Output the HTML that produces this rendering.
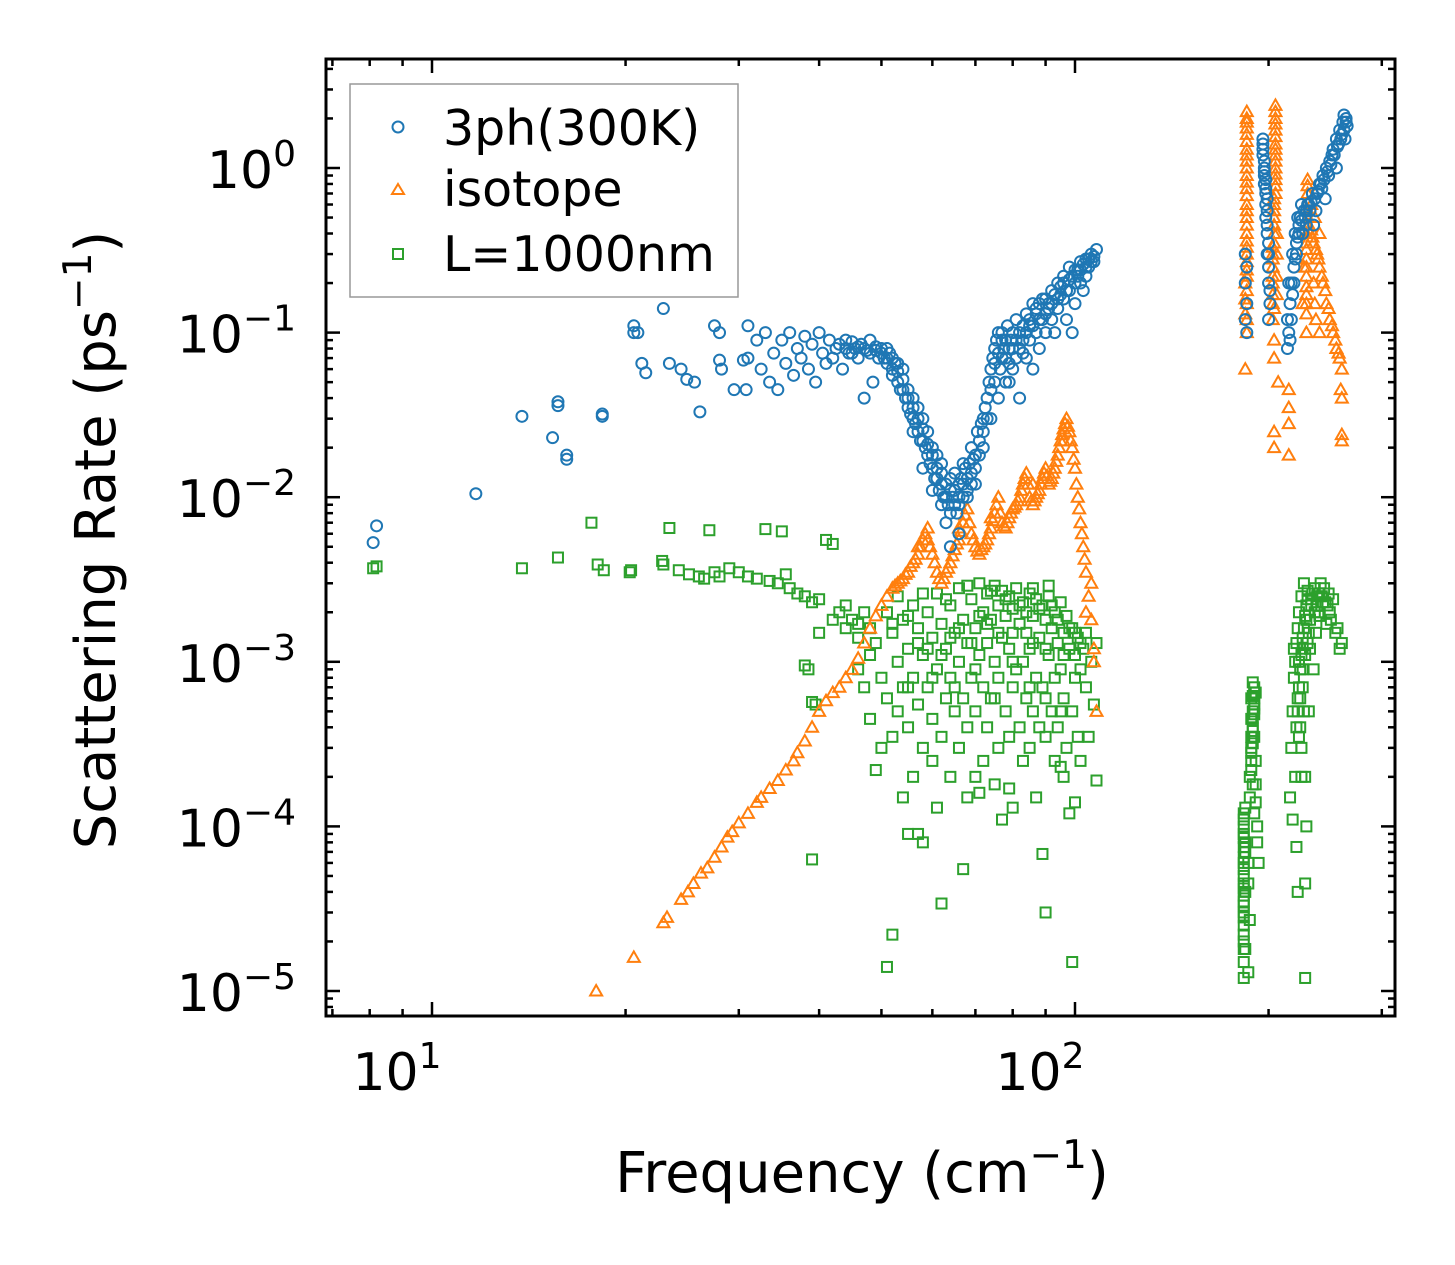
<!DOCTYPE html>
<html><head><meta charset="utf-8">
<style>
html,body{margin:0;padding:0;background:#fff;}
svg{display:block;font-family:"DejaVu Sans","Liberation Sans",sans-serif;}
</style></head>
<body>
<svg id="chart" width="1455" height="1265" viewBox="0 0 1455 1265" xmlns="http://www.w3.org/2000/svg">
<rect x="0" y="0" width="1455" height="1265" fill="#fff"/>
<g id="marks"></g>
<g id="axes"></g>
<rect x="326" y="59" width="1069" height="957" fill="none" stroke="#000" stroke-width="3"/>
<text transform="translate(115,540) rotate(-90)" text-anchor="middle" font-size="56">Scattering Rate (ps<tspan dy="-24" font-size="39">−1</tspan><tspan dy="24">)</tspan></text>
<text x="862" y="1192" text-anchor="middle" font-size="56">Frequency (cm<tspan dy="-24" font-size="39">−1</tspan><tspan dy="24">)</tspan></text>
<g>
<rect x="350" y="84" width="388" height="213" fill="#fff" stroke="#999" stroke-width="1.5"/>
<circle cx="398" cy="127" r="5.5" fill="none" stroke="#1f77b4" stroke-width="2"/>
<text x="443" y="145" font-size="49">3ph(300K)</text>
<path d="M398,184 L404,194 L392,194 Z" fill="none" stroke="#ff7f0e" stroke-width="2"/>
<text x="443" y="206" font-size="49">isotope</text>
<rect x="393" y="249" width="10" height="10" fill="none" stroke="#2ca02c" stroke-width="2"/>
<text x="443" y="271" font-size="49">L=1000nm</text>
</g>
</svg>
<script>
const xMajorTicks = [10, 100];
const yMajorExps = [0, -1, -2, -3, -4, -5];
const pts3ph = [[8.1,5.3e-3],[8.2,6.7e-3],[11.7,1.05e-2],[13.8,3.1e-2],[15.7,3.6e-2],[15.7,3.8e-2],[15.4,2.3e-2],[16.2,1.8e-2],[16.2,1.7e-2],[18.4,3.1e-2],[18.4,3.2e-2],[20.6,0.11],[20.6,0.1],[20.9,0.1],[21.2,0.065],[21.5,0.057],[22.9,0.14],[23.4,0.065],[24.4,0.06],[24.9,0.052],[25.6,0.05],[26.1,0.033],[27.5,0.11],[28,0.1],[28,0.068],[28.2,0.06],[29.5,0.045],[30.5,0.068],[30.8,0.045],[31,0.11],
[31,0.07],[32,0.09],[32.5,0.06],[33,0.1],[33.5,0.05],[34,0.075],[34.5,0.045],[35,0.09],[35.5,0.065],[36,0.1],[36.5,0.055],[37,0.08],[37.5,0.07],[38,0.095],[38.5,0.06],[39,0.085],[39.5,0.05],[40,0.1],[40.5,0.075],[41,0.065],[41.5,0.09],[42,0.07],[42.5,0.08],[43,0.085],[43.5,0.06],[44,0.09],[44.5,0.075],[45,0.088],[45.5,0.08],[46,0.07],[46.5,0.085],[47,0.04],[47.5,0.078],[48,0.09],[48.5,0.05],[49,0.082],[49.5,0.07],[50,0.075],[51,0.07],[52,0.06],[53,0.05],[54,0.045],[55,0.035],[56,0.03],[57,0.025],[58,0.022],[59,0.018],[60,0.015],[61,0.013],[62,0.012],[63,0.01],[64,0.011],[65,0.009],[66,0.012],[67,0.01],[68,0.013],[69,0.014],[70,0.018],[71,0.022],[72,0.03],[73,0.04],[74,0.06],[75,0.08],[76,0.1],[77,0.07],[78,0.09],[79,0.05],[80,0.1],[81,0.12],[82,0.08],[83,0.11],[84,0.13],[85,0.09],[86,0.15],[87,0.1],[88,0.12],[89,0.16],[90,0.13],[92,0.18],[94,0.2],[96,0.22],[98,0.25],[100,0.2],[102,0.27],[104,0.28],[106,0.3],[108,0.32],
[52,0.07],[54,0.06],[56,0.04],[58,0.03],[60,0.02],[62,0.016],[63,0.007],[64,0.005],[66,0.006],[60,0.011],[58,0.015],[56,0.025],[55,0.045],[57,0.035],[59,0.025],[61,0.018],[65,0.014],[67,0.016],[69,0.02],[70,0.012],[72,0.02],[74,0.03],[76,0.04],[78,0.05],[80,0.06],[82,0.04],[84,0.07],[86,0.06],[88,0.08],[90,0.1],[92,0.12],[94,0.14],[96,0.16],[98,0.18],[100,0.15],[102,0.2],[104,0.22],[97,0.12],[99,0.1],[53,0.065],[51,0.08],[62,0.009],[64,0.008],[66,0.009],[68,0.01],[75,0.05],[77,0.09],[79,0.08],[81,0.07],[83,0.09],[85,0.11],[87,0.13],[91,0.15],[93,0.1],[95,0.17],[101,0.24],[103,0.18],[105,0.25],[107,0.27],
[184,0.3],[184,0.2],[185,0.15],[185,0.25],[184,0.12],[185,0.1],[196,1.5],[196,1.2],[197,1.0],[197,0.8],[198,0.6],[198,0.5],[199,0.4],[199,0.3],[200,0.25],[200,0.2],[201,0.15],[197,0.9],[198,0.7],
[214,0.08],[215,0.1],[216,0.15],[217,0.2],[218,0.3],[219,0.25],[220,0.4],[221,0.35],[222,0.5],[223,0.45],[225,0.6],[228,0.5],[231,0.6],[234,0.7],[237,0.55],[240,0.8],[243,0.9],[246,1.0],[249,1.1],[252,1.3],[255,1.5],[258,1.7],[261,1.9],[264,2.0],[265,1.8],[235,0.45],[245,0.65],[255,1.0],[263,1.5],[226,0.4],[229,0.45],[232,0.55],[238,0.7],[242,0.75],[248,0.9],[251,1.2],[257,1.4],[260,1.6],[214,0.12],[215,0.2],[262,2.1]];
const pts3phDense = [[44,0.08],[45,0.075],[46,0.082],[47,0.08],[48,0.075],[49,0.078],[50,0.08],[50.5,0.07],[51,0.065],[51.5,0.075],[52,0.055],[52.5,0.065],[53,0.058],[53.5,0.045],[54,0.052],[54.5,0.04],[55,0.04],[55.5,0.032],[56,0.035],[56.5,0.028],[57,0.03],[57.5,0.022],[58,0.026],[58.5,0.02],[59,0.021],[59.5,0.016],[60,0.018],[60.5,0.013],[61,0.015],[61.5,0.011],[62,0.014],[62.5,0.01],[63,0.012],[63.5,0.009],[64,0.013],[64.5,0.01],[65,0.011],[65.5,0.008],[66,0.01],[66.5,0.013],[67,0.012],[67.5,0.015],[68,0.011],[68.5,0.016],[69,0.012],[69.5,0.017],[70,0.015],[70.5,0.025],[71,0.018],[71.5,0.028],[72,0.025],[72.5,0.035],[73,0.03],[73.5,0.05],[74,0.045],[74.5,0.07],[75,0.065],[75.5,0.09],[76,0.075],[76.5,0.06],[77,0.1],[77.5,0.08],[78,0.07],[78.5,0.11],[79,0.065],[79.5,0.09],[80,0.08],[81,0.09],[82,0.1],[83,0.075],[84,0.1],[85,0.12],[86,0.11],[87,0.14],[88,0.15],[89,0.12],[90,0.16],[91,0.14],[92,0.15],[93,0.17],[94,0.16],[95,0.19],[96,0.2],[97,0.18],[98,0.21],[99,0.22],[100,0.24],[101,0.22],[102,0.24],[103,0.26],[104,0.25],[105,0.28],[106,0.27],[107,0.29],
[196,1.4],[196,1.3],[197,1.1],[197,0.95],[198,0.85],[198,0.75],[199,0.65],[199,0.55],[199,0.45],[200,0.35],[200,0.3],[201,0.18],[200,0.12],[216,0.09],[217,0.12],[218,0.17],[219,0.2],[220,0.28],[221,0.3],[222,0.38],[223,0.4],[224,0.5],[225,0.48],[227,0.55],[229,0.55],[230,0.6],[233,0.62],[236,0.65],[239,0.72],[241,0.8],[244,0.85],[247,0.95],[250,1.05],[253,1.2],[256,1.35],[259,1.5],[262,1.7],[264,1.9]];
const ptsIso = [[18,1e-5],[20.6,1.6e-5],[22.9,2.6e-5],[23.2,2.8e-5],[24.4,3.6e-5],[25,4e-5],[25.5,4.5e-5],[26.2,5.2e-5],[26.8,5.6e-5],[27.5,6.5e-5],[28.2,7.5e-5],[28.8,8.6e-5],[29.3,9.3e-5],[30,1.05e-4],[31,1.2e-4],[32,1.4e-4],[32.5,1.5e-4],[33.5,1.7e-4],[34.5,1.9e-4],[35.5,2.2e-4],[36.5,2.5e-4],[37,2.8e-4],[38,3.3e-4],[39,4e-4],[40,5e-4],[41,5.8e-4],[42,6.5e-4],[43,7e-4],[44,8e-4],[45,9e-4],[46,1.05e-3],[47,1.3e-3],[48,1.6e-3],[49,1.9e-3],[50,2.2e-3],[51,2.5e-3],[52,2.8e-3],[53,3.0e-3],[54,3.2e-3],[55,3.5e-3],[56,4e-3],[57,4.5e-3],[58,5.5e-3],[59,6.5e-3],[60,4.5e-3],[61,3.5e-3],[62,3e-3],[63,3.5e-3],[64,4e-3],[65,4.8e-3],[66,5.5e-3],[67,7e-3],[68,8.5e-3],[69,6e-3],[70,5e-3],[71,4.5e-3],[72,5e-3],[73,5.5e-3],[74,6.5e-3],[75,8e-3],[76,1e-2],[77,7e-3],[78,6.5e-3],[79,7.5e-3],[80,8.5e-3],[81,9e-3],[82,1e-2],[83,1.2e-2],[84,1.4e-2],[85,1e-2],[86,9e-3],[87,1e-2],[88,1.1e-2],[89,1.3e-2],[90,1.5e-2],[91,1.2e-2],[92,1.3e-2],[93,1.5e-2],[94,1.8e-2],[95,2.2e-2],[96,2.6e-2],[97,3.0e-2],[98,2.5e-2],[99,2e-2],[100,1.5e-2],[101,1e-2],[102,7e-3],[103,5e-3],[104,3.5e-3],[105,2.5e-3],[106,1.8e-3],[107,1.2e-3],[108,5e-4],[106,3e-3],[104,2e-3],[107,1e-3],[57,5e-3],[59,5.5e-3],[66,6.5e-3],[74,7.5e-3],[86,1.2e-2],[96,2.2e-2],
[185,2.2],[185,1.9],[185,1.6],[185,1.3],[185,1.1],[185,0.9],[185,0.75],[185,0.6],[185,0.5],[185,0.4],[185,0.33],[185,0.27],[185,0.22],[185,0.18],[185,0.15],[185,0.12],[184,0.06],[185,0.1],[184,0.13],
[205,2.4],[205,2.0],[205,1.7],[205,1.4],[205,1.2],[205,1.0],[205,0.85],[205,0.7],[204,0.6],[204,0.5],[204,0.45],[204,0.35],[203,0.3],[203,0.25],[203,0.2],[203,0.15],[203,0.12],[206,0.4],[206,0.3],[206,0.22],[206,0.17],[204,0.09],[204,0.07],[207,0.05],[204,0.025],[204,0.02],[215,0.045],[215,0.035],[215,0.028],[215,0.018],
[230,0.85],[230,0.7],[230,0.55],[230,0.45],[229,0.35],[229,0.28],[229,0.22],[229,0.17],[229,0.13],[229,0.1],[232,0.4],[235,0.35],[238,0.3],[240,0.25],[243,0.2],[246,0.15],[249,0.12],[252,0.1],[255,0.08],[258,0.07],[260,0.06],[259,0.045],[260,0.04],[260,0.024],[260,0.022],[235,0.2],[236,0.15],[237,0.12],[233,0.6],[236,0.5],[240,0.4],[226,0.15],[227,0.25],[240,0.1]];
const ptsIsoDense = [[52.5,2.9e-3],[53.5,3.1e-3],[54.5,3.4e-3],[55.5,3.8e-3],[56.5,4.2e-3],[57.5,5e-3],[58.5,6e-3],[59.5,5e-3],[60.5,4e-3],[61.5,3.2e-3],[62.5,3.2e-3],[63.5,3.7e-3],[64.5,4.4e-3],[65.5,5.2e-3],[66.5,6.2e-3],[67.5,7.8e-3],[68.5,7e-3],[69.5,5.5e-3],[70.5,4.7e-3],[71.5,4.8e-3],[72.5,5.2e-3],[73.5,6e-3],[74.5,7.2e-3],[75.5,9e-3],[76.5,8e-3],[77.5,6.7e-3],[78.5,7e-3],[79.5,8e-3],[80.5,8.7e-3],[81.5,9.5e-3],[82.5,1.1e-2],[83.5,1.3e-2],[84.5,1.2e-2],[85.5,9.5e-3],[86.5,9.5e-3],[87.5,1.05e-2],[88.5,1.2e-2],[89.5,1.4e-2],[90.5,1.35e-2],[91.5,1.25e-2],[92.5,1.4e-2],[93.5,1.65e-2],[94.5,2e-2],[95.5,2.4e-2],[96.5,2.8e-2],[97.5,2.7e-2],[98.5,2.2e-2],[99.5,1.7e-2],[100.5,1.2e-2],[101.5,8.5e-3],[102.5,6e-3],[103.5,4.2e-3],
[185,2.0],[185,1.75],[185,1.45],[185,1.2],[185,1.0],[185,0.82],[185,0.68],[185,0.55],[185,0.45],[185,0.36],[185,0.3],[185,0.24],[184,0.2],[184,0.16],[205,2.2],[205,1.85],[205,1.55],[205,1.3],[205,1.1],[205,0.92],[205,0.78],[204,0.65],[204,0.55],[204,0.4],[203,0.33],[203,0.28],[203,0.22],[203,0.17],[204,0.14],[230,0.78],[230,0.62],[230,0.5],[229,0.4],[229,0.32],[229,0.25],[229,0.19],[229,0.15],[231,0.45],[233,0.42],[234,0.38],[237,0.32],[239,0.28],[242,0.22],[245,0.18],[248,0.14],[251,0.11],[254,0.09],[257,0.075]];
const ptsBd = [[8.1,3.7e-3],[8.2,3.8e-3],[13.8,3.7e-3],[15.7,4.3e-3],[17.7,7e-3],[18.1,3.9e-3],[18.5,3.6e-3],[20.3,3.5e-3],[20.4,3.6e-3],[22.8,4.1e-3],[22.9,3.9e-3],[23.4,6.5e-3],[24.2,3.6e-3],[25.1,3.4e-3],[26,3.3e-3],[26.5,3.2e-3],[27,6.3e-3],[27.5,3.5e-3],[28,3.3e-3],[29,3.7e-3],[30,3.5e-3],[31,3.3e-3],[32,3.2e-3],[33,6.4e-3],[33.5,3.1e-3],[34.5,3e-3],[35,6.2e-3],[35.5,3.4e-3],[36,2.8e-3],[37,2.6e-3],[38,2.5e-3],[39,2.3e-3],[40,2.4e-3],[41,5.5e-3],[42,5.2e-3],[43,2e-3],[44,2.2e-3],[45,1.8e-3],[46,1.7e-3],[47,2.0e-3],[48,1.6e-3],[38,9.5e-4],[38.5,9e-4],[39,5.7e-4],[39.5,5.5e-4],[39,6.3e-5],[40,1.5e-3],[42,1.8e-3],[44,1.6e-3],[46,1.4e-3],[46,9e-4],[47,7e-4],[48,1.1e-3],[48,4.5e-4],[49,2.2e-4],[49,1.3e-3],[50,8e-4],[50,3e-4],[51,2e-3],[51,6e-4],[52,1.5e-3],[52,3.5e-4],[52,2.2e-5],[51,1.4e-5],[53,2.5e-3],[53,1e-3],[53,5e-4],[54,1.8e-3],[54,7e-4],[54,1.5e-4],[55,1.2e-3],[55,4e-4],[55,9e-5],[56,2.2e-3],[56,8e-4],[56,2e-4],[57,1.6e-3],[57,5.5e-4],[58,1.1e-3],[58,3e-4],[58,8e-5],[59,2e-3],[59,7e-4],[60,1.4e-3],[60,4.5e-4],[60,2.5e-4],[61,2.6e-3],[61,9e-4],[62,1.7e-3],[62,3.5e-4],[62,3.4e-5],[63,1.2e-3],[63,6e-4],[64,2.2e-3],[64,8e-4],[64,2e-4],[65,1.5e-3],[65,5e-4],[66,2.8e-3],[66,1e-3],[66,3e-4],[67,1.8e-3],[67,6e-4],[67,5.5e-5],[68,1.3e-3],[68,4e-4],[68,1.5e-4],[69,2.4e-3],[69,8e-4],[70,1.6e-3],[70,5e-4],[70,2e-4],[71,3e-3],[71,1.1e-3],[72,2e-3],[72,7e-4],[72,2.5e-4],[73,2.6e-3],[73,1.3e-3],[73,4e-4],[74,1.8e-3],[74,6e-4],[75,2.9e-3],[75,1e-3],[75,1.8e-4],[76,2.2e-3],[76,8e-4],[76,3e-4],[77,2.7e-3],[77,1.4e-3],[77,1.1e-4],[78,1.9e-3],[78,5e-4],[79,2.5e-3],[79,1.2e-3],[79,3.5e-4],[80,2.1e-3],[80,7e-4],[80,1.3e-4],[81,2.8e-3],[81,9e-4],[82,1.7e-3],[82,4e-4],[83,2.3e-3],[83,1e-3],[83,2.5e-4],[84,1.5e-3],[84,6e-4],[85,2.6e-3],[85,1.2e-3],[85,3e-4],[86,1.9e-3],[86,5e-4],[87,2.4e-3],[87,8e-4],[87,1.5e-4],[88,1.4e-3],[88,4e-4],[89,2.2e-3],[89,7e-4],[89,6.8e-5],[90,1.8e-3],[90,3e-5],[90,3.5e-4],[91,2.5e-3],[91,1.1e-3],[92,1.6e-3],[92,5e-4],[93,2e-3],[93,8e-4],[93,2.5e-4],[94,1.3e-3],[94,4e-4],[95,2.3e-3],[95,9e-4],[96,1.5e-3],[96,6e-4],[96,2e-4],[97,1.9e-3],[97,3e-4],[98,1.2e-3],[98,1.2e-4],[99,1.6e-3],[99,5e-4],[99,1.5e-5],[100,1.1e-3],[100,1.4e-4],[101,1.4e-3],[101,3.5e-4],[102,9e-4],[102,2.5e-4],[103,1.2e-3],[104,7e-4],[105,3.5e-4],[106,1e-3],[107,5.5e-4],[108,1.9e-4],[108,1.3e-3],[104,1.5e-3],[58,2.6e-3],[63,2.4e-3],[68,2.9e-3],[74,2.7e-3],[86,2.8e-3],[91,2.9e-3],[57,9e-5],[61,1.3e-4],[71,1.6e-4],[79,1.7e-4],[95,2.3e-4],
[183,1.2e-5],[183,1.5e-5],[183,2e-5],[183,2.5e-5],[183,3e-5],[183,3.5e-5],[184,4e-5],[183,5e-5],[183,6e-5],[184,7e-5],[184,8e-5],[183,9e-5],[183,1.1e-4],[184,1.3e-4],[184,1.8e-5],[183,4.5e-5],
[186,6e-5],[186,1.3e-5],[187,2.7e-5],[187,1.5e-4],[187,2e-4],[188,2.5e-4],[188,3e-4],[189,4e-4],[189,5e-4],[190,6e-4],[190,7e-4],[188,4.5e-4],[190,3.5e-4],[191,2.5e-4],[191,1.8e-4],[191,1.4e-4],[192,1e-4],[192,8e-5],[193,6e-5],[190,5.5e-4],[189,3.5e-4],[188,6e-4],[189,7.5e-4],[191,6.5e-4],[186,4.5e-5],
[216,1.5e-4],[217,3e-4],[218,5e-4],[219,8e-4],[220,1e-3],[221,1.3e-3],[222,1.6e-3],[223,2e-3],[225,2.5e-3],[227,3e-3],[230,2.7e-3],[233,2.2e-3],[236,2e-3],[238,2.5e-3],[241,3e-3],[244,2.8e-3],[247,2.2e-3],[250,1.8e-3],[254,1.5e-3],[258,1.2e-3],[260,1.3e-3],[222,6e-4],[224,4e-4],[226,7e-4],[220,2e-4],[218,1.1e-4],[221,7.5e-5],[222,4e-5],[228,4.5e-5],[228,1.2e-5],[225,3e-4],[229,1e-4],[231,5e-4],[219,1.2e-3],[232,1.2e-3],[235,9e-4],[237,1.5e-3],[239,2e-3],[243,2.3e-3],[246,1.7e-3],[229,1.8e-3],[231,1.5e-3],[223,1e-3],[226,1.4e-3],[228,2e-4],[233,2.4e-3],[240,2.6e-3],[248,2.6e-3]];
const ptsBdDense = [[183,1.8e-5],[183,2.2e-5],[183,2.8e-5],[183,3.3e-5],[183,3.8e-5],[183,4.2e-5],[183,5.5e-5],[183,6.5e-5],[183,7.5e-5],[183,8.5e-5],[183,1e-4],[183,1.2e-4],[188,2.2e-4],[188,2.8e-4],[189,3.2e-4],[189,3.8e-4],[189,4.5e-4],[190,4.8e-4],[190,6.5e-4],[190,5.2e-4],[189,6.2e-4],[188,3.5e-4],[189,1.8e-4],[190,1.2e-4],[221,4e-4],[222,5e-4],[223,7e-4],[224,9e-4],[225,1.1e-3],[226,1.2e-3],[227,1.6e-3],[228,1.9e-3],[229,2.2e-3],[230,2.4e-3],[232,1.8e-3],[234,2.6e-3],[236,2.8e-3],[238,2.2e-3],[240,1.9e-3],[242,2.5e-3],[245,2.3e-3],[249,2e-3],[252,2.4e-3],[256,1.6e-3],[224,6e-4],[226,9e-4],[228,1.1e-3],[230,1.3e-3],[223,3.5e-4],[225,2e-4],[227,5e-4],[52,1.7e-3],[55,1.9e-3],[57,1.3e-3],[59,1.2e-3],[62,1.1e-3],[64,1.4e-3],[66,1.6e-3],[69,1.3e-3],[71,1.9e-3],[73,1.7e-3],[76,1.5e-3],[78,2.4e-3],[80,1.5e-3],[82,2.2e-3],[84,2e-3],[86,1.3e-3],[88,2.1e-3],[90,1.2e-3],[92,2.2e-3],[94,1.8e-3],[96,1.1e-3],[98,1.6e-3],[100,1.5e-3],[102,1.3e-3],[55,7e-4],[60,8e-4],[65,7e-4],[70,9e-4],[75,6e-4],[80,1e-3],[85,7e-4],[90,6e-4],[95,5e-4],[100,8e-4]];

const XL = 326, XR = 1395, YT = 59, YB = 1016;
const X10 = 432, XDEC = 643, Y0 = 168, YDEC = 164.6;
function xScale(f){ return X10 + (Math.log10(f) - 1) * XDEC; }
function yScale(r){ return Y0 - Math.log10(r) * YDEC; }
const NS = 'http://www.w3.org/2000/svg';
const marks = document.getElementById('marks');
const axes = document.getElementById('axes');
function mk(tag, attrs, parent){ const e = document.createElementNS(NS, tag); for (const k in attrs) e.setAttribute(k, attrs[k]); parent.appendChild(e); return e; }

ptsBd.concat(ptsBdDense).forEach(p => {
  const x = xScale(p[0]), y = yScale(p[1]);
  const e = mk('rect', {x: x-5, y: y-5, width: 10, height: 10, fill: 'none', stroke: '#2ca02c', 'stroke-width': 2}, marks);
  
  
});
ptsIso.concat(ptsIsoDense).forEach(p => {
  const x = xScale(p[0]), y = yScale(p[1]);
  const e = mk('path', {d: `M${x},${y-6} L${x+6},${y+4.5} L${x-6},${y+4.5} Z`, fill: 'none', stroke: '#ff7f0e', 'stroke-width': 2}, marks);
  
  
});
pts3ph.concat(pts3phDense).forEach(p => {
  const x = xScale(p[0]), y = yScale(p[1]);
  const e = mk('circle', {cx: x, cy: y, r: 5.5, fill: 'none', stroke: '#1f77b4', 'stroke-width': 2}, marks);
  
  
});

for (let d = 0; d <= 3; d++) {
  for (let m = 1; m <= 9; m++) {
    const val = m * Math.pow(10, d);
    const x = xScale(val);
    if (x < XL || x > XR) continue;
    const len = m === 1 ? 14 : 7;
    const t1 = mk('line', {x1: x, x2: x, y1: YB, y2: YB - len, stroke: '#000', 'stroke-width': 2.5}, axes);
    
    
    const t2 = mk('line', {x1: x, x2: x, y1: YT, y2: YT + len, stroke: '#000', 'stroke-width': 2.5}, axes);
    
    
  }
}
xMajorTicks.forEach(v => {
  const t = mk('text', {x: xScale(v) - 35, y: 1090, 'text-anchor': 'middle', 'font-size': 52}, axes);
  
  
  t.innerHTML = `10<tspan dy="-22" font-size="36">${Math.round(Math.log10(v))}</tspan>`;
});
for (let e = -6; e <= 0; e++) {
  for (let m = 1; m <= 9; m++) {
    const y = yScale(m * Math.pow(10, e));
    if (y < YT || y > YB) continue;
    const len = m === 1 ? 14 : 7;
    const t1 = mk('line', {x1: XL, x2: XL + len, y1: y, y2: y, stroke: '#000', 'stroke-width': 2.5}, axes);
    
    
    const t2 = mk('line', {x1: XR, x2: XR - len, y1: y, y2: y, stroke: '#000', 'stroke-width': 2.5}, axes);
    
    
  }
}
yMajorExps.forEach(ex => {
  const t = mk('text', {x: 296, y: yScale(Math.pow(10, ex)) + 20, 'text-anchor': 'end', 'font-size': 52}, axes);
  
  
  const lab = ex < 0 ? '−' + (-ex) : '' + ex;
  t.innerHTML = `10<tspan dy="-22" font-size="36">${lab}</tspan>`;
});
</script>
</body></html>
